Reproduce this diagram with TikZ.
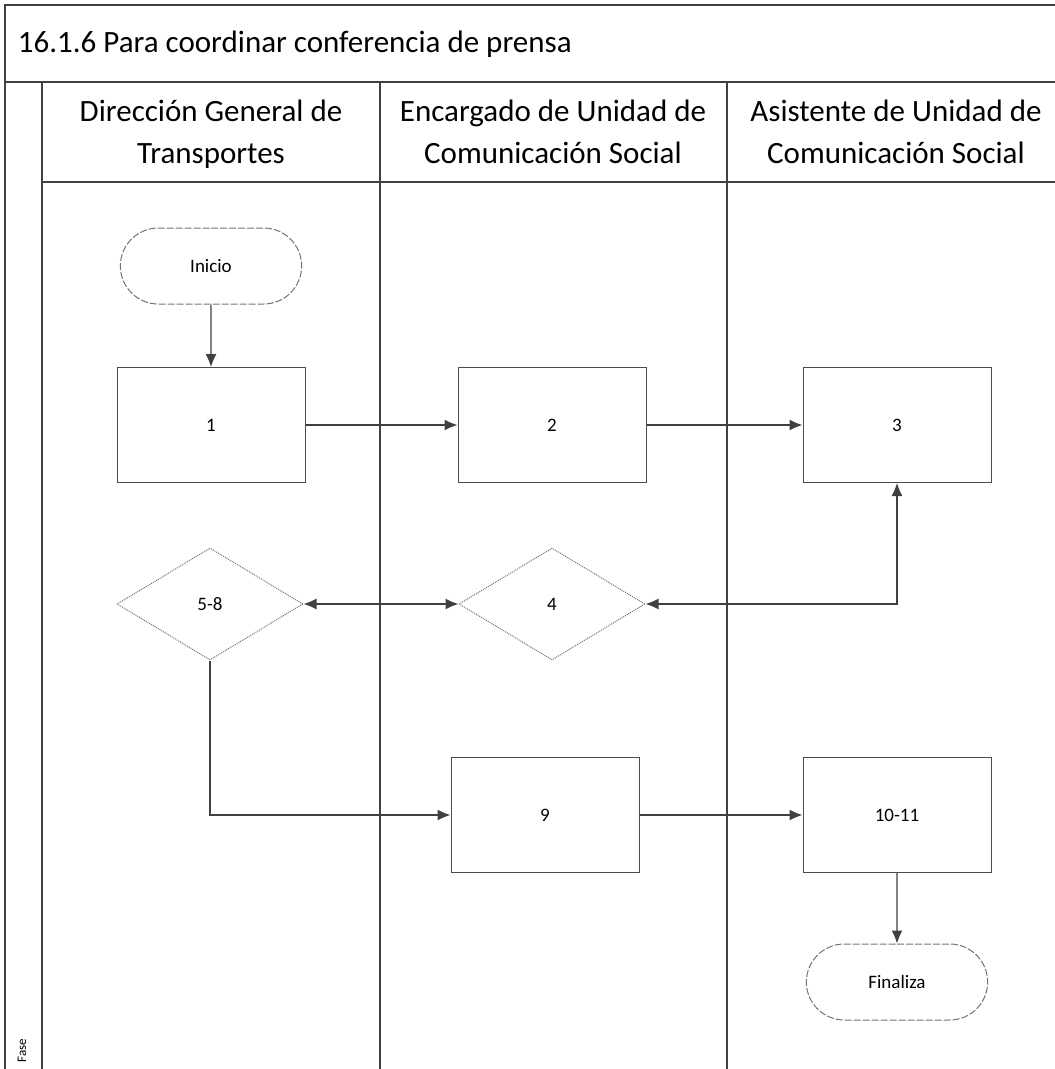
\documentclass[tikz,border=0pt]{standalone}
\usepackage{fontspec}
\setmainfont{Carlito}
\usetikzlibrary{arrows.meta,positioning,shapes.geometric,shapes.misc}
\tikzset{
 procbox/.style={draw=black!70,line width=1pt,minimum width=188pt,minimum height=115pt,inner sep=0pt},
 decide/.style={diamond,draw=black!55,line width=1pt,densely dotted,minimum width=186pt,minimum height=112pt,inner sep=0pt},
 termbox/.style={rounded rectangle,draw=black!55,line width=1pt,dash pattern=on 7pt off 2pt,minimum width=188pt,minimum height=76pt},
 flow/.style={->,draw=black!75,line width=1.3pt},
}
\begin{document}
\begin{tikzpicture}[x=1pt,y=-1pt,>={Latex[length=13pt,width=11pt]},font=\fontsize{19}{23}\selectfont,line width=1.2pt]
\useasboundingbox (0,0) rectangle (1055,1069);
% frame and lanes
\draw[black!75] (1055,5) -- (5,5) -- (5,1069);
\draw[black!75] (5,82) -- (1055,82);
\draw[black!75] (42,182) -- (1055,182);
\foreach \x in {42,380,727}{
 \draw[black!75] (\x,82) -- (\x,1069);
}
\node[anchor=west,font=\fontsize{31}{38}\selectfont] (title) at (14,44) {16.1.6 Para coordinar conferencia de prensa};
\foreach \x/\name/\txt in {211/hdg/{Dirección General de\strut\\Transportes\strut},553/hec/{Encargado de Unidad de\strut\\Comunicación Social\strut},896/has/{Asistente de Unidad de\strut\\Comunicación Social\strut}}{
 \node[align=center,font=\fontsize{31}{42}\selectfont] (\name) at (\x,134) {\txt};
}
\node[rotate=90,anchor=west,font=\fontsize{13}{15}\selectfont] (fase) at (22,1066) {Fase};
% steps
\node[termbox] (inicio) at (211,266) {Inicio};
\node[procbox] (p1) at (211,425) {1};
\node[procbox] (p2) at (552,425) {2};
\node[procbox] (p3) at (897,425) {3};
\node[decide] (d58) at (210,604) {5-8};
\node[decide] (d4) at (552,604) {4};
\node[procbox] (p9) at (545,815) {9};
\node[procbox] (p1011) at (897,815) {10-11};
\node[termbox] (fin) at (897,982) {Finaliza};
% connectors
\draw[flow] (inicio) -- (p1);
\draw[flow] (p1) -- (p2);
\draw[flow] (p2) -- (p3);
\draw[flow,<->] (d4.east) -| (p3.south);
\draw[flow,<->] (d58.east) -- (d4.west);
\draw[flow] (d58.south) |- (p9.west);
\draw[flow] (p9) -- (p1011);
\draw[flow] (p1011) -- (fin);
\end{tikzpicture}
\end{document}
